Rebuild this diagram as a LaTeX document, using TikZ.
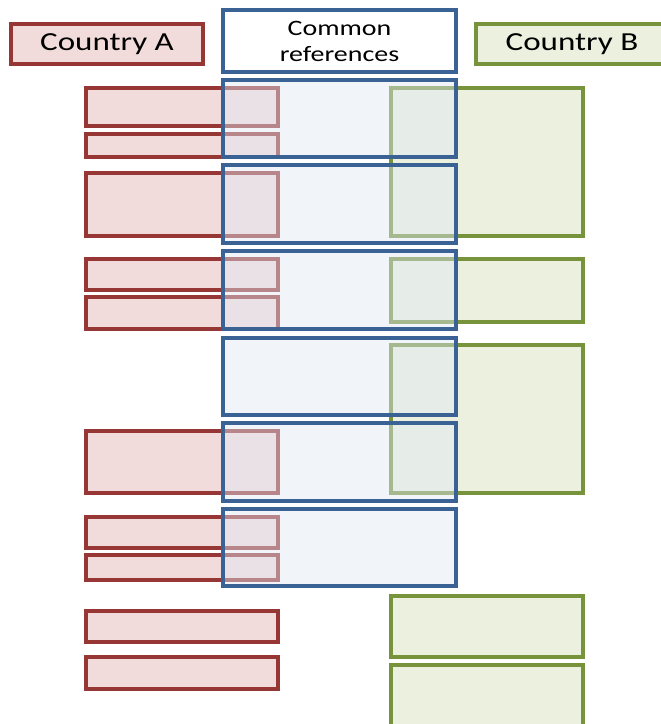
\documentclass[tikz,border=0pt]{standalone}
\usepackage{fontspec}
\setmainfont{Carlito}
\newfontfamily\boxfont[FakeStretch=1.27]{Carlito}
\usepackage{tikz}
\usetikzlibrary{positioning}
\definecolor{redline}{RGB}{150,55,53}
\definecolor{redfill}{RGB}{242,220,219}
\definecolor{greenline}{RGB}{119,147,60}
\definecolor{greenfill}{RGB}{235,241,222}
\definecolor{blueline}{RGB}{58,98,148}
\definecolor{bluefill}{RGB}{224,232,244}
\tikzstyle{redbox} = [rectangle, draw=redline, fill=redfill, line width=3.4pt, minimum width=192, inner sep=0pt]
\tikzstyle{greenbox} = [rectangle, draw=greenline, fill=greenfill, line width=3.4pt, minimum width=192, inner sep=0pt]
\tikzstyle{refbox} = [rectangle, draw=blueline, line width=3.4pt, minimum width=233, inner sep=0pt]
\tikzstyle{overlay} = [refbox, fill=bluefill, fill opacity=0.45]

\begin{document}
\begin{tikzpicture}[x=1pt, y=-1pt]
        \useasboundingbox (0, 0) rectangle (661, 724);

        % country A
        \node[redbox, minimum height=38] at (182, 107) (a1) {};
        \node[redbox, minimum height=23] at (182, 145.5) (a2) {};
        \node[redbox, minimum height=63] at (182, 204.5) (a3) {};
        \node[redbox, minimum height=31] at (182, 274.5) (a4) {};
        \node[redbox, minimum height=32] at (182, 313) (a5) {};
        \node[redbox, minimum height=62] at (182, 462) (a6) {};
        \node[redbox, minimum height=31] at (182, 532.5) (a7) {};
        \node[redbox, minimum height=25] at (182, 567.5) (a8) {};
        \node[redbox, minimum height=31] at (182, 626.5) (a9) {};
        \node[redbox, minimum height=32] at (182, 673) (a10) {};

        % country B
        \node[greenbox, minimum height=148] at (487, 162) (b1) {};
        \node[greenbox, minimum height=63] at (487, 290.5) (b2) {};
        \node[greenbox, minimum height=148] at (487, 419) (b3) {};
        \node[greenbox, minimum height=61] at (487, 626.5) (b4) {};
        \node[greenbox, minimum height=75] at (487, 702.5) (b5) {};

        % common references
        \node[overlay, minimum height=77] at (339.5, 118.5) (r1) {};
        \node[overlay, minimum height=78] at (339.5, 204) (r2) {};
        \node[overlay, minimum height=78] at (339.5, 290) (r3) {};
        \node[overlay, minimum height=77] at (339.5, 376.5) (r4) {};
        \node[overlay, minimum height=78] at (339.5, 462) (r5) {};
        \node[overlay, minimum height=77] at (339.5, 547.5) (r6) {};

        % headers
        \node[redbox, minimum height=40, font=\boxfont\fontsize{26}{30}\selectfont] at (107, 44) (CountryA) {Country A};
        \node[refbox, fill=white, minimum height=62, align=center, font=\boxfont\fontsize{22}{26}\selectfont] at (339.5, 41) (Common) {Common\\references};
        \node[greenbox, minimum height=40, font=\boxfont\fontsize{26}{30}\selectfont] at (572, 44) (CountryB) {Country B};

    \end{tikzpicture}
\end{document}
